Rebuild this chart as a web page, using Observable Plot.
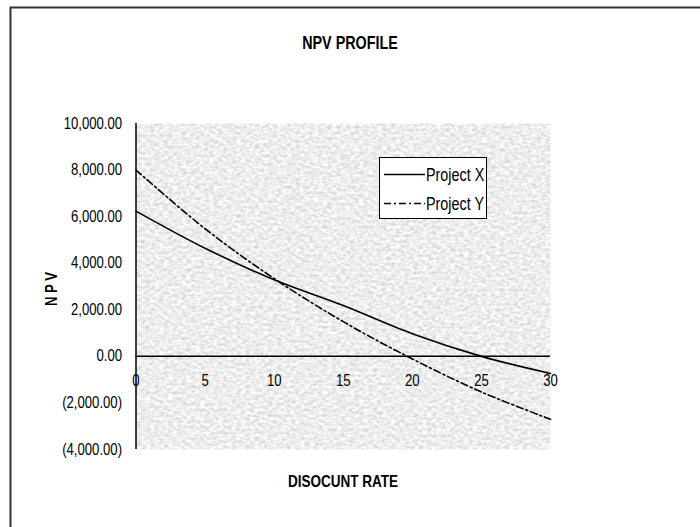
<!DOCTYPE html>
<html>
<head>
<meta charset="utf-8">
<script src="https://cdn.jsdelivr.net/npm/d3@7"></script>
<script src="https://cdn.jsdelivr.net/npm/@observablehq/plot@0.6"></script>
<style>
html,body{margin:0;padding:0;background:#fff;overflow:hidden;}
#chart{width:700px;height:527px;}
</style>
</head>
<body>
<div id="chart"></div>
<script>
// ---- data ----
const rates = [0, 5, 10, 15, 20, 25, 30];
const projectX = [6236, 4640, 3290, 2180, 970, 0, -734];
const projectY = [8000, 5480, 3340, 1490, -110, -1530, -2700];
const xTicks = [0, 5, 10, 15, 20, 25, 30];
const yTicks = [-4000, -2000, 0, 2000, 4000, 6000, 8000, 10000];
const seriesNames = ["Project X", "Project Y"];
const titleText = "NPV PROFILE";
const xLabel = "DISOCUNT RATE";
const yLabel = "N P V";

const FONT = '"Liberation Sans Narrow","Arial Narrow","Liberation Sans",Arial,sans-serif';
const fmt = d3.format(",.2f");
const yFmt = v => v < 0 ? `(${fmt(-v)})` : fmt(v);

const dataX = rates.map((r, i) => ({rate: r, npv: projectX[i]}));
const dataY = rates.map((r, i) => ({rate: r, npv: projectY[i]}));

const chart = Plot.plot({
  width: 700,
  height: 527,
  marginLeft: 135.5,
  marginRight: 150,
  marginTop: 123,
  marginBottom: 78,
  style: {fontFamily: FONT, fontSize: "16px", background: "transparent", color: "#000"},
  x: {domain: [0, 30], axis: null},
  y: {domain: [-4000, 10000], ticks: yTicks, tickFormat: yFmt, tickSize: 0, tickPadding: 14, label: null},
  marks: [
    Plot.frame({fill: "#e8e8e8", stroke: "none"}),
    Plot.ruleX([0], {stroke: "#000", strokeWidth: 1.5}),
    Plot.ruleY([0], {stroke: "#000", strokeWidth: 1.5}),
    Plot.text(xTicks, {x: d => d, y: 0, text: d => String(d), dy: 25, fontSize: 16, fill: "#000"}),
    Plot.line(dataX, {x: "rate", y: "npv", curve: "catmull-rom", stroke: "#000", strokeWidth: 1.6}),
    Plot.line(dataY, {x: "rate", y: "npv", curve: "catmull-rom", stroke: "#000", strokeWidth: 1.6, strokeDasharray: "7,3,2,3"})
  ]
});
document.getElementById("chart").appendChild(chart);

const svg = d3.select(chart);
// texture filter for plot area
const defs = svg.insert("defs", ":first-child");
const f = defs.append("filter").attr("id", "texf")
  .attr("x", 0).attr("y", 0).attr("width", 1).attr("height", 1)
  .attr("color-interpolation-filters", "sRGB");
f.append("feTurbulence").attr("type", "fractalNoise").attr("baseFrequency", "0.22 0.35")
  .attr("numOctaves", 3).attr("seed", 7).attr("result", "n");
f.append("feColorMatrix").attr("in", "n").attr("type", "matrix")
  .attr("values", "0.30 0 0 0 0.78  0.30 0 0 0 0.78  0.30 0 0 0 0.78  0 0 0 0 1").attr("result", "g");
f.append("feComposite").attr("in", "g").attr("in2", "SourceGraphic").attr("operator", "in");
svg.select('[aria-label="frame"]').attr("filter", "url(#texf)");

// outer chart-area border (only top/left visible)
svg.insert("rect", "defs + *")
  .attr("x", 10.5).attr("y", 7.5).attr("width", 900).attr("height", 900)
  .attr("fill", "none").attr("stroke", "#333").attr("stroke-width", 2);

// title & axis labels
svg.append("text").attr("x", 350).attr("y", 49).attr("text-anchor", "middle")
  .attr("font-weight", "bold").attr("font-size", 17.5).attr("font-family", FONT).attr("fill", "#000")
  .text(titleText);
svg.append("text").attr("x", 343).attr("y", 486.5).attr("text-anchor", "middle")
  .attr("font-weight", "bold").attr("font-size", 16.5).attr("font-family", FONT).attr("fill", "#000")
  .text(xLabel);
svg.append("text").attr("transform", "translate(57,289) rotate(-90)").attr("text-anchor", "middle")
  .attr("font-weight", "bold").attr("font-size", 16).attr("font-family", FONT).attr("fill", "#000")
  .text(yLabel);

// legend
const lg = svg.append("g").attr("font-family", FONT).attr("font-size", 17.5).attr("text-anchor", "start");
lg.append("rect").attr("x", 379.5).attr("y", 157.5).attr("width", 107).attr("height", 61)
  .attr("fill", "#fff").attr("stroke", "#000").attr("stroke-width", 1);
const dashes = [null, "7,3,2,3"];
seriesNames.forEach((name, i) => {
  const yy = 174.5 + i * 29;
  lg.append("line").attr("x1", 384).attr("x2", 425).attr("y1", yy).attr("y2", yy)
    .attr("stroke", "#000").attr("stroke-width", 1.6).attr("stroke-dasharray", dashes[i]);
  lg.append("text").attr("x", 426).attr("y", yy).attr("dy", "0.35em").attr("text-anchor", "start")
    .attr("fill", "#000").text(name);
});

// condense all text (Arial-Narrow-like look)
svg.selectAll("text").each(function() {
  const len = this.getComputedTextLength();
  if (len > 0) {
    this.setAttribute("textLength", (len * 0.82).toFixed(2));
    this.setAttribute("lengthAdjust", "spacingAndGlyphs");
  }
});
</script>
</body>
</html>
